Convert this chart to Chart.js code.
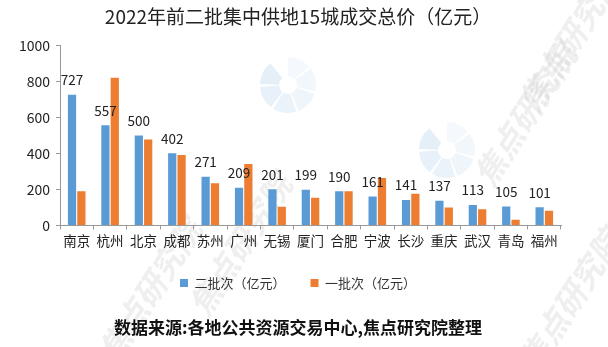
<!DOCTYPE html>
<html>
<head>
<meta charset="utf-8">
<script src="https://cdn.jsdelivr.net/npm/chart.js@4"></script>
<style>
  html, body { margin: 0; padding: 0; background: #fff; }
  #wrap { width: 608px; height: 347px; }
</style>
</head>
<body>
<div id="wrap"><canvas id="bar-chart-land"></canvas></div>
<script>
// 15城 成交总价 (亿元)
var cities = ['南京','杭州','北京','成都','苏州','广州','无锡','厦门','合肥','宁波','长沙','重庆','武汉','青岛','福州'];
var batch2 = [727, 557, 500, 402, 271, 209, 201, 199, 190, 161, 141, 137, 113, 105, 101];
var batch1 = [190, 822, 478, 392, 235, 342, 104, 154, 190, 264, 176, 99, 90, 31, 82];
var yTicks = [0, 200, 400, 600, 800, 1000];

var blue = '#5B9BD5';
var orange = '#ED7D31';
var fontCN = "'Noto Sans CJK SC', 'Noto Sans', sans-serif";

// 水印
var watermark = {
  id: 'watermark',
  beforeDraw: function(chart) {
    var ctx = chart.ctx;
    ctx.save();
    ctx.fillStyle = 'rgba(190,190,190,0.25)';
    ctx.font = 'bold italic 32px ' + fontCN;
    var spots = [[570, 40], [525, 115], [150, 290], [570, 300], [240, 245]];
    spots.forEach(function(p) {
      ctx.save();
      ctx.translate(p[0], p[1]);
      ctx.rotate(-1.0);
      ctx.textAlign = 'center';
      ctx.textBaseline = 'middle';
      ctx.fillText('焦点研究院', 0, 0);
      ctx.restore();
    });
    // 饼状 logo
    [[288, 85], [447, 150]].forEach(function(p) {
      for (var i = 0; i < 6; i++) {
        ctx.beginPath();
        var a0 = -Math.PI / 2 + i * 0.95;
        ctx.moveTo(p[0], p[1]);
        ctx.arc(p[0], p[1], 28, a0, a0 + 0.85);
        ctx.closePath();
        ctx.fillStyle = 'rgba(91,155,213,' + (0.06 + i * 0.02) + ')';
        ctx.fill();
      }
      ctx.beginPath();
      ctx.arc(p[0], p[1], 9, 0, Math.PI * 2);
      ctx.fillStyle = '#fff';
      ctx.fill();
    });
    ctx.restore();
  }
};

// 二批次 数值标签
var valueLabels = {
  id: 'valueLabels',
  afterDatasetsDraw: function(chart) {
    var ctx = chart.ctx;
    var meta = chart.getDatasetMeta(0);
    ctx.save();
    ctx.fillStyle = '#222';
    ctx.font = '13.5px ' + fontCN;
    ctx.textAlign = 'center';
    ctx.textBaseline = 'bottom';
    meta.data.forEach(function(bar, i) {
      ctx.fillText(batch2[i], bar.x, bar.y - 8);
    });
    ctx.restore();
  }
};

new Chart(document.getElementById('bar-chart-land'), {
  type: 'bar',
  data: {
    labels: cities,
    datasets: [{
      label: '二批次（亿元）',
      data: batch2,
      backgroundColor: blue
    }, {
      label: '一批次（亿元）',
      data: batch1,
      backgroundColor: orange
    }]
  },
  plugins: [watermark, valueLabels],
  options: {
    responsive: true,
    maintainAspectRatio: false,
    animation: false,
    layout: { padding: { left: 0, right: 12, top: 0, bottom: 0 } },
    datasets: {
      bar: { categoryPercentage: 0.56, barPercentage: 0.88 }
    },
    plugins: {
      title: {
        display: true,
        text: '2022年前二批集中供地15城成交总价（亿元）',
        color: '#222',
        font: { family: fontCN, size: 19, weight: 'normal' },
        padding: { top: 5, bottom: 18 }
      },
      subtitle: {
        display: true,
        position: 'bottom',
        text: '数据来源:各地公共资源交易中心,焦点研究院整理',
        color: '#111',
        font: { family: fontCN, size: 17, weight: 'bold' },
        padding: { top: 18, bottom: 9 }
      },
      legend: {
        position: 'bottom',
        labels: {
          boxWidth: 8,
          boxHeight: 8,
          color: '#333',
          font: { family: fontCN, size: 13 },
          padding: 25
        }
      },
      tooltip: { enabled: false }
    },
    scales: {
      x: {
        grid: { display: true, drawOnChartArea: false, offset: true, tickLength: 4, color: '#999' },
        border: { color: '#999' },
        ticks: { color: '#222', font: { family: fontCN, size: 13.5 }, maxRotation: 0, autoSkip: false, padding: 3 }
      },
      y: {
        min: 0,
        max: 1000,
        afterBuildTicks: function(axis) {
          axis.ticks = yTicks.map(function(v) { return { value: v }; });
        },
        afterFit: function(axis) { axis.width = 60; },
        grid: { drawOnChartArea: false, tickLength: 4, color: '#999' },
        border: { color: '#999' },
        ticks: {
          color: '#222',
          font: { family: fontCN, size: 14 },
          padding: 6,
          callback: function(v) { return String(v); }
        }
      },
      // 右侧留白
      yRight: {
        position: 'right',
        display: true,
        afterFit: function(axis) { axis.width = 35; },
        grid: { display: false },
        border: { display: false },
        ticks: { display: false }
      }
    }
  }
});
</script>
</body>
</html>
